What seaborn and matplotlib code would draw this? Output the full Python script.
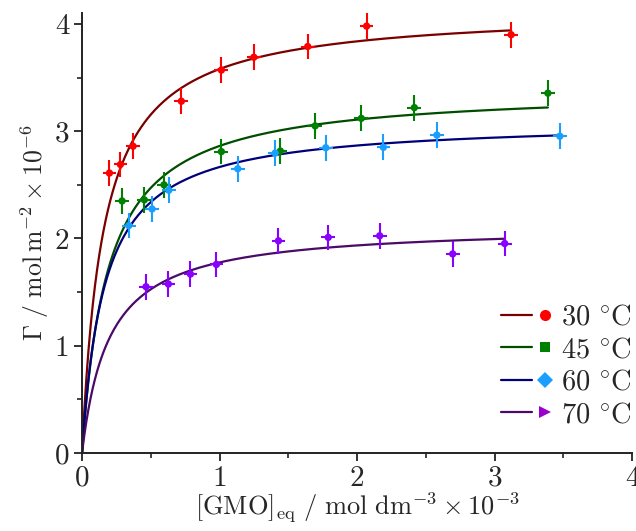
import numpy as np
import pandas as pd
import matplotlib
matplotlib.use("Agg")
import matplotlib.pyplot as plt
import seaborn as sns
from matplotlib.lines import Line2D
from matplotlib.legend_handler import HandlerBase

# ---- data ----
labels = ["30 °C", "45 °C", "60 °C", "70 °C"]

x30 = [0.199, 0.279, 0.371, 0.722, 1.013, 1.249, 1.641, 2.069, 3.12]
y30 = [2.61, 2.69, 2.86, 3.28, 3.57, 3.69, 3.79, 3.98, 3.90]

x45 = [0.291, 0.453, 0.596, 1.013, 1.442, 1.695, 2.03, 2.416, 3.387]
y45 = [2.35, 2.36, 2.50, 2.81, 2.815, 3.05, 3.12, 3.22, 3.355]

x60 = [0.34, 0.509, 0.631, 1.132, 1.404, 1.772, 2.191, 2.58, 3.474]
y60 = [2.12, 2.275, 2.45, 2.65, 2.796, 2.846, 2.85, 2.964, 2.954]

x70 = [0.465, 0.628, 0.788, 0.977, 1.428, 1.79, 2.164, 2.695, 3.073]
y70 = [1.55, 1.575, 1.668, 1.758, 1.978, 2.01, 2.025, 1.856, 1.953]

x_err = 0.05
y_err = 0.12

# Langmuir fit parameters (Gamma_max, K) per series
gamma_max = [4.137, 3.40, 3.10, 2.125]
k_ads = [6.43, 5.33, 6.15, 5.1]

# ---- style ----
curve_colors = ["#7a0000", "#004d00", "#00007a", "#4a0a66"]
point_colors = ["#ff0000", "#008000", "#1a9fff", "#8a00ff"]
legend_marker_colors = ["#ff0000", "#008000", "#1a9fff", "#9900cc"]
markers = ["o", "s", "D", ">"]
legend_msizes = [8, 6.5, 8, 9]

sns.set_style("ticks")
plt.rcParams["font.family"] = ["cmr10", "DejaVu Sans"]
plt.rcParams["mathtext.fontset"] = "cm"
plt.rcParams["axes.unicode_minus"] = False
plt.rcParams["axes.formatter.use_mathtext"] = True


class LineMarkerHandler(HandlerBase):
    def create_artists(self, legend, orig_handle, xdescent, ydescent,
                       width, height, fontsize, trans):
        ln, mk = orig_handle
        y = height / 2 - ydescent
        x0 = -xdescent
        line = Line2D([x0, x0 + 0.6 * width], [y, y], color=ln.get_color(),
                      lw=ln.get_linewidth(), transform=trans)
        mark = Line2D([x0 + 0.86 * width], [y], marker=mk.get_marker(),
                      color=mk.get_color(), markersize=mk.get_markersize(),
                      ls="none", markeredgewidth=0, transform=trans)
        return [line, mark]


fig = plt.figure(figsize=(6.36, 5.31), dpi=100)
ax = fig.add_axes([0.129, 0.147, 0.865, 0.828])

xs_all = [x30, x45, x60, x70]
ys_all = [y30, y45, y60, y70]

for i in range(4):
    xd = np.array(xs_all[i])
    yd = np.array(ys_all[i])
    grid = np.linspace(0, xd.max(), 400)
    fit = gamma_max[i] * k_ads[i] * grid / (1 + k_ads[i] * grid)
    sns.lineplot(x=grid, y=fit, ax=ax, color=curve_colors[i], lw=1.6,
                 legend=False, zorder=2)
    ax.errorbar(xd, yd, xerr=x_err, yerr=y_err, fmt="none",
                ecolor=point_colors[i], elinewidth=1.5, capsize=0, zorder=3)
    sns.scatterplot(x=xd, y=yd, ax=ax, color=point_colors[i], marker="o",
                    s=28, edgecolor="none", legend=False, zorder=4)

ax.set_xlim(0, 4)
ax.set_ylim(0, 4.1)
ax.set_xticks([0, 1, 2, 3, 4])
ax.set_yticks([0, 1, 2, 3, 4])
ax.set_xticks(np.arange(0.5, 4, 1), minor=True)
ax.set_yticks(np.arange(0.5, 4, 1), minor=True)
ax.set_xticklabels(["0", "1", "2", "3", "4"])
ax.set_yticklabels(["0", "1", "2", "3", "4"])
ax.tick_params(which="major", direction="out", length=6, width=1.3,
               labelsize=21, color="#222222", pad=3)
ax.tick_params(which="minor", direction="out", length=3.5, width=1.2,
               color="#222222")
for s in ["top", "right"]:
    ax.spines[s].set_visible(False)
for s in ["left", "bottom"]:
    ax.spines[s].set_linewidth(1.4)
    ax.spines[s].set_color("#222222")

ax.set_xlabel(r"$[\mathrm{GMO}]_{\mathrm{eq}}\ /\ \mathrm{mol\ dm}^{-3}\times 10^{-3}$",
              fontsize=19, labelpad=-1)
ax.set_ylabel(r"$\Gamma\ /\ \mathrm{mol\,m}^{-2}\times 10^{-6}$",
              fontsize=18.5, labelpad=3)

handles = []
for i in range(4):
    ln = Line2D([], [], color=curve_colors[i], lw=1.6)
    mk = Line2D([], [], color=legend_marker_colors[i], marker=markers[i],
                ls="none", markersize=legend_msizes[i])
    handles.append((ln, mk))
leg_labels = [r"$30\ ^{\circ}\mathrm{C}$", r"$45\ ^{\circ}\mathrm{C}$",
              r"$60\ ^{\circ}\mathrm{C}$", r"$70\ ^{\circ}\mathrm{C}$"]
ax.legend(handles, leg_labels, handler_map={tuple: LineMarkerHandler()},
          loc="lower right", bbox_to_anchor=(1.02, 0.03), frameon=False,
          fontsize=20.5, handlelength=1.8, handletextpad=0.3, labelspacing=0.22,
          borderaxespad=0)

fig.savefig("out.png", dpi=100)
